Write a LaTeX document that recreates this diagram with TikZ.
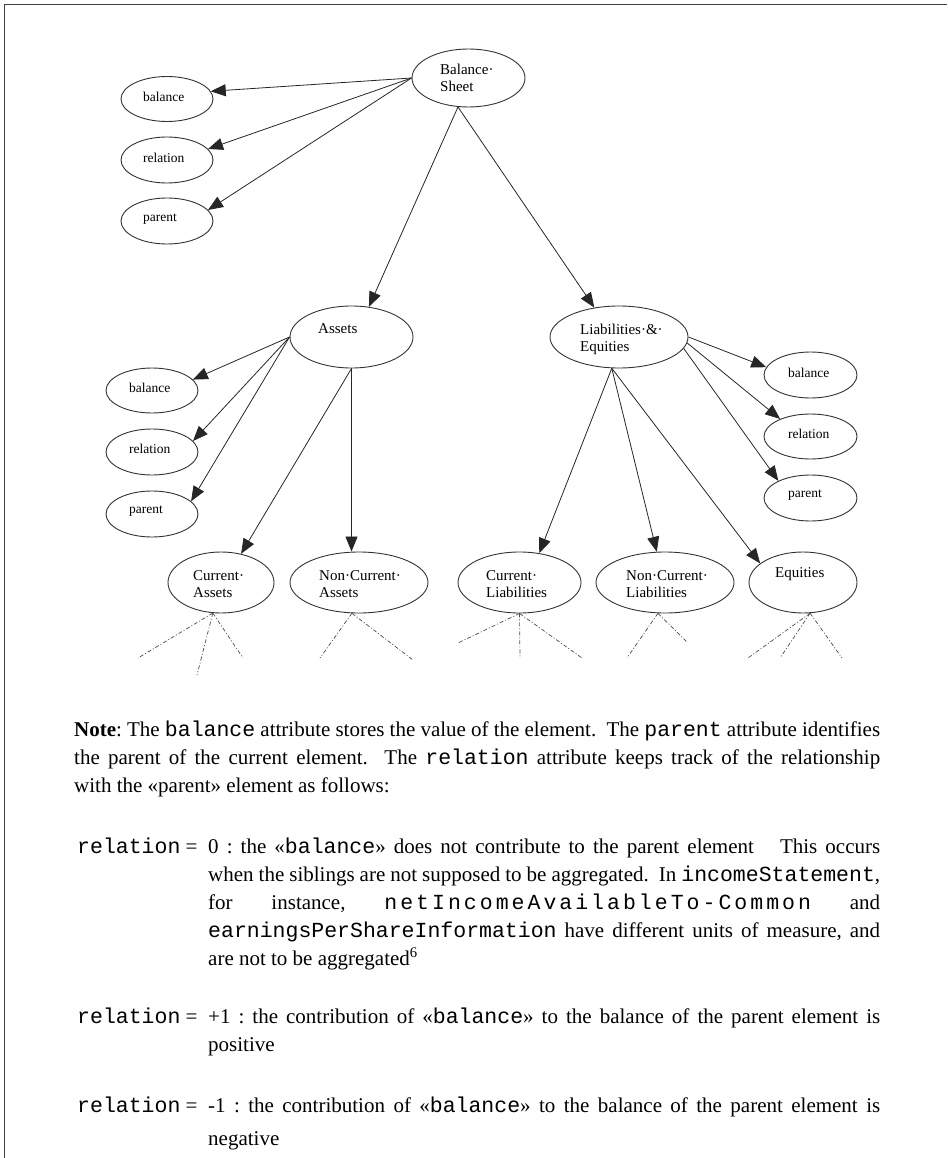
\documentclass[tikz,border=0pt]{standalone}
\usepackage{fontspec}
\setmainfont{Liberation Serif}
\setmonofont{Liberation Mono}[Scale=1.024]
\usetikzlibrary{arrows.meta,shapes.geometric}
\begin{document}
\begin{tikzpicture}[x=1pt,y=-1pt,
  ell/.style={draw=black!80, line width=0.9pt, ellipse, inner sep=0pt},
  bigtxt/.style={anchor=west, inner sep=0pt, font=\fontsize{15}{17}\selectfont, align=left},
  smalltxt/.style={anchor=west, inner sep=0pt, font=\fontsize{13.5}{15}\selectfont},
  arr/.style={draw=black!85, line width=0.8pt, -{Triangle[length=15pt,width=12pt]}},
  dd/.style={draw=black!70, line width=0.7pt, dash pattern=on 4pt off 2pt on 1pt off 2pt},
  txt/.style={anchor=base west, inner sep=0pt, align=justify, font=\fontsize{21}{28}\selectfont\frenchspacing},
  lbl/.style={anchor=base west, inner sep=0pt, font=\fontsize{21}{28}\selectfont},
]
\useasboundingbox (0,0) rectangle (947,1158);
\draw[line width=1.8pt, black!75] (947,4.5) -- (4.5,4.5) -- (4.5,1158);

% ellipses
\node[ell, minimum width=113pt, minimum height=58pt] (bs) at (468.5,78) {};
\node[ell, minimum width=92pt, minimum height=45pt] (bal1) at (167,99) {};
\node[ell, minimum width=92pt, minimum height=46pt] (rel1) at (167,160) {};
\node[ell, minimum width=92pt, minimum height=46pt] (par1) at (167,221) {};
\node[ell, minimum width=123pt, minimum height=62pt] (as) at (351.5,337) {};
\node[ell, minimum width=92pt, minimum height=45pt] (bal2) at (152,390.5) {};
\node[ell, minimum width=92pt, minimum height=46pt] (rel2) at (152,452) {};
\node[ell, minimum width=92pt, minimum height=46pt] (par2) at (152,514) {};
\node[ell, minimum width=138pt, minimum height=62pt] (le) at (619,337) {};
\node[ell, minimum width=93pt, minimum height=46pt] (bal3) at (810.5,375) {};
\node[ell, minimum width=93pt, minimum height=45pt] (rel3) at (810.5,436.5) {};
\node[ell, minimum width=93pt, minimum height=46pt] (par3) at (810.5,498) {};
\node[ell, minimum width=106pt, minimum height=61pt] (ca) at (221,582.5) {};
\node[ell, minimum width=138pt, minimum height=61pt] (nca) at (359,582.5) {};
\node[ell, minimum width=123pt, minimum height=61pt] (cl) at (519.5,582.5) {};
\node[ell, minimum width=138pt, minimum height=61pt] (ncl) at (665,582.5) {};
\node[ell, minimum width=108pt, minimum height=61pt] (eq) at (803,582.5) {};

% labels
\node[bigtxt] (bsT) at (440,78) {Balance·\\Sheet};
\node[smalltxt] (bal1T) at (143,97) {balance};
\node[smalltxt] (rel1T) at (143,158) {relation};
\node[smalltxt] (par1T) at (143,219) {parent};
\node[bigtxt] (asT) at (318,329) {Assets};
\node[smalltxt] (bal2T) at (129,388) {balance};
\node[smalltxt] (rel2T) at (129,449) {relation};
\node[smalltxt] (par2T) at (129,511) {parent};
\node[bigtxt] (leT) at (580,339) {Liabilities·\&·\\Equities};
\node[smalltxt] (bal3T) at (788,373) {balance};
\node[smalltxt] (rel3T) at (788,434) {relation};
\node[smalltxt] (par3T) at (788,495) {parent};
\node[bigtxt] (caT) at (193,584.5) {Current·\\Assets};
\node[bigtxt] (ncaT) at (319,584.5) {Non·Current·\\Assets};
\node[bigtxt] (clT) at (486,584.5) {Current·\\Liabilities};
\node[bigtxt] (nclT) at (626,584.5) {Non·Current·\\Liabilities};
\node[bigtxt] (eqT) at (775,574) {Equities};

% arrows
\draw[arr] (bs.west) -- (bal1.10);
\draw[arr] (bs.west) -- (rel1.15);
\draw[arr] (bs.west) -- (par1.15);
\draw[arr] (bs.250) -- (as.60);
\draw[arr] (bs.250) -- (le.130);
\draw[arr] (as.west) -- (bal2.15);
\draw[arr] (as.west) -- (rel2.15);
\draw[arr] (as.west) -- (par2.18);
\draw[arr] (as.south) -- (ca.55);
\draw[arr] (as.south) -- (as.south |- nca.north);
\draw[arr] (le.east) -- (bal3.170);
\draw[arr] (le.355) -- (rel3.150);
\draw[arr] (le.350) -- (par3.152);
\draw[arr] (le.257) -- (cl.56);
\draw[arr] (le.257) -- (ncl.105);
\draw[arr] (le.257) -- (eq.156);

% dashed stubs
\coordinate (ca1) at (138,658);
\coordinate (ca2) at (197,675);
\coordinate (ca3) at (243,658);
\coordinate (nca1) at (320,658);
\coordinate (nca2) at (413,660);
\coordinate (cl1) at (458,643);
\coordinate (cl2) at (520,658);
\coordinate (cl3) at (582,658);
\coordinate (ncl1) at (627,658);
\coordinate (ncl2) at (687,642);
\coordinate (eq1) at (748,658);
\coordinate (eq2) at (780,658);
\coordinate (eq3) at (842,658);
\draw[dd] (ca.255) -- (ca1);
\draw[dd] (ca.255) -- (ca2);
\draw[dd] (ca.255) -- (ca3);
\draw[dd] (nca.257) -- (nca1);
\draw[dd] (nca.257) -- (nca2);
\draw[dd] (cl.south) -- (cl1);
\draw[dd] (cl.south) -- (cl2);
\draw[dd] (cl.south) -- (cl3);
\draw[dd] (ncl.257) -- (ncl1);
\draw[dd] (ncl.257) -- (ncl2);
\draw[dd] (eq.283) -- (eq1);
\draw[dd] (eq.283) -- (eq2);
\draw[dd] (eq.283) -- (eq3);

% text
\node[txt, text width=806pt] (note) at (74,736) {\textbf{Note}: The \texttt{balance} attribute stores the value of the element.\ \ The \texttt{parent} attribute identifies\linebreak the parent of the current element.\ \ The \texttt{relation} attribute keeps track of the relationship\linebreak with the «parent» element as follows:};

\node[lbl] (r0) at (77,853) {\texttt{relation} =};
\node[txt, text width=672pt] (p0) at (208,853) {0 : the «\texttt{balance}» does not contribute to the parent element\hspace{18pt} This occurs\linebreak when the siblings are not supposed to be aggregated.\ \ In \texttt{incomeStatement},\linebreak for instance, \mbox{\ttfamily\addfontfeature{LetterSpace=14}netIncomeAvailableTo-Common} and\linebreak \texttt{earningsPerShareInformation} have different units of measure, and\linebreak are not to be aggregated\textsuperscript{6}};

\node[lbl] (r1) at (77,1023) {\texttt{relation} =};
\node[txt, text width=672pt] (p1) at (208,1023) {+1 : the contribution of «\texttt{balance}» to the balance of the parent element is\linebreak positive};

\node[lbl] (r2) at (77,1112) {\texttt{relation} =};
\node[txt, text width=672pt] (p2) at (208,1112) {-1 : the contribution of «\texttt{balance}» to the balance of the parent element is\vadjust{\vskip5pt}\linebreak negative};
\end{tikzpicture}
\end{document}
